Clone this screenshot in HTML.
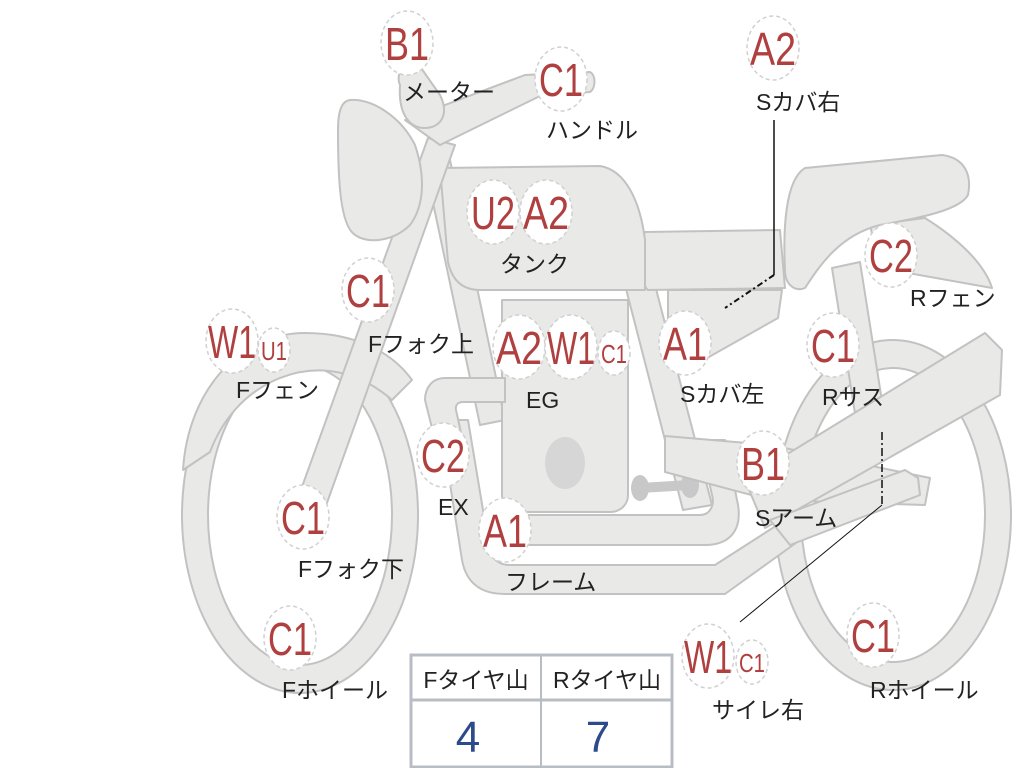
<!DOCTYPE html>
<html><head><meta charset="utf-8"><style>
html,body{margin:0;padding:0;background:#fff;width:1024px;height:768px;overflow:hidden}
svg{display:block}
.s{fill:#e9e9e7;stroke:#c2c2c2;stroke-width:2;stroke-linejoin:round}
.b{fill:#fff;stroke:#d0d0d0;stroke-width:1.5;stroke-dasharray:4 3}
.r{fill:#b0403f;font-family:"Liberation Sans",sans-serif;font-size:46px}
.rs{fill:#b0403f;font-family:"Liberation Sans",sans-serif;font-size:26px}
.l{fill:#222;font-family:"Liberation Sans","Noto Sans CJK JP",sans-serif;font-size:23px}
</style></head><body>
<svg width="1024" height="768" viewBox="0 0 1024 768">
<path class="s" fill-rule="evenodd" d="M182,515 a118,178 0 1,0 236,0 a118,178 0 1,0 -236,0 Z M208,515 a92,150 0 1,0 184,0 a92,150 0 1,0 -184,0 Z"/>
<path class="s" fill-rule="evenodd" d="M775,515 a118,175 0 1,0 236,0 a118,175 0 1,0 -236,0 Z M801,515 a92,147 0 1,0 184,0 a92,147 0 1,0 -184,0 Z"/>
<path class="s" d="M183,470 C188,390 240,333 305,333 C355,333 392,352 412,380 L392,400 C360,372 320,362 280,378 C245,392 222,420 210,452 Z"/>
<path class="s" d="M832,268 L860,262 L885,420 L857,426 Z"/>
<path class="s" d="M870,225 L925,218 C960,240 985,265 992,288 L880,268 Z"/>
<path class="s" d="M440,420 L462,560 C466,582 480,594 505,594 L725,594 L800,540 L785,520 L715,565 L510,565 C495,565 490,555 488,540 L468,420 Z"/>
<path class="s" d="M490,515 L700,515 C710,515 715,505 712,495 L700,440 L725,440 L738,505 C742,530 730,545 705,545 L495,545 Z"/>
<path class="s" d="M425,165 L450,160 L505,420 L480,425 Z"/>
<path class="s" d="M625,285 L655,285 L712,505 L683,510 Z"/>
<path class="s" d="M502,300 L628,300 L628,495 C628,505 620,512 610,512 L522,512 C510,512 502,505 502,495 Z"/>
<ellipse cx="565" cy="463" rx="20" ry="26" fill="#d6d6d6"/>
<path class="s" d="M505,378 L445,378 C432,378 425,388 425,400 L440,460 L466,455 L456,410 C455,405 458,402 463,402 L505,402 Z"/>
<path d="M640,488 L690,485" stroke="#c8c8c8" stroke-width="10"/>
<ellipse cx="640" cy="488" rx="9" ry="13" fill="#c8c8c8"/>
<ellipse cx="690" cy="485" rx="9" ry="13" fill="#c8c8c8"/>
<path class="s" d="M665,436 L770,445 L930,478 L925,505 L770,500 L665,472 Z"/>
<path class="s" d="M745,480 L985,333 L1002,350 L1000,395 L765,528 Z"/>
<path class="s" d="M770,520 L905,470 L918,478 L920,495 L790,545 Z"/>
<path class="s" d="M668,290 L782,290 L778,318 L700,362 L668,360 Z"/>
<path class="s" d="M645,232 L780,230 L785,288 L648,290 C640,285 638,240 645,232 Z"/>
<path class="s" d="M805,168 L942,155 C965,158 972,175 968,195 C960,210 920,218 880,225 C840,235 820,265 805,288 C795,292 785,285 785,270 C783,230 785,180 805,168 Z"/>
<path class="s" d="M440,168 L600,166 C625,170 640,200 645,240 L645,290 L480,290 C462,290 452,280 448,262 Z"/>
<path class="s" d="M428,138 L455,145 L318,528 L290,520 Z"/>
<path class="s" d="M350,100 C370,98 400,115 415,145 C425,175 425,205 410,225 C395,240 370,245 355,235 C340,225 338,180 338,130 C338,110 342,101 350,100 Z"/>
<path class="s" d="M405,120 L525,75 L590,72 C596,75 596,88 590,92 L540,96 L440,145 Z"/>
<path class="s" d="M400,85 C395,75 405,60 412,55 L440,95 C450,115 440,128 425,128 C410,128 398,115 400,85 Z"/>

<path d="M774,120 L774,275" stroke="#111" stroke-width="1.5" fill="none"/>
<path d="M774,275 L725,308" stroke="#111" stroke-width="2" stroke-dasharray="6 3 2 3" fill="none"/>
<path d="M882,432 L882,505" stroke="#111" stroke-width="1.5" stroke-dasharray="8 3 2 3" fill="none"/>
<path d="M882,505 L740,622" stroke="#111" stroke-width="1" fill="none"/>

<g>
<ellipse class="b" cx="407" cy="43" rx="26" ry="32"/><text class="r" x="407" y="60" text-anchor="middle" textLength="44" lengthAdjust="spacingAndGlyphs">B1</text>
<ellipse class="b" cx="561" cy="79" rx="26" ry="32"/><text class="r" x="561" y="96" text-anchor="middle" textLength="44" lengthAdjust="spacingAndGlyphs">C1</text>
<ellipse class="b" cx="773" cy="48" rx="26" ry="32"/><text class="r" x="773" y="65" text-anchor="middle" textLength="46" lengthAdjust="spacingAndGlyphs">A2</text>
<ellipse class="b" cx="493" cy="212" rx="26" ry="32"/><text class="r" x="493" y="229" text-anchor="middle" textLength="44" lengthAdjust="spacingAndGlyphs">U2</text>
<ellipse class="b" cx="546" cy="212" rx="26" ry="32"/><text class="r" x="546" y="229" text-anchor="middle" textLength="46" lengthAdjust="spacingAndGlyphs">A2</text>
<ellipse class="b" cx="368" cy="290" rx="26" ry="32"/><text class="r" x="368" y="307" text-anchor="middle" textLength="44" lengthAdjust="spacingAndGlyphs">C1</text>
<ellipse class="b" cx="232" cy="341" rx="26" ry="32"/><text class="r" x="232" y="358" text-anchor="middle" textLength="48" lengthAdjust="spacingAndGlyphs">W1</text>
<ellipse class="b" cx="274" cy="350" rx="16" ry="22"/><text class="rs" x="274" y="360" text-anchor="middle" textLength="26" lengthAdjust="spacingAndGlyphs">U1</text>
<ellipse class="b" cx="519" cy="347" rx="26" ry="32"/><text class="r" x="519" y="364" text-anchor="middle" textLength="46" lengthAdjust="spacingAndGlyphs">A2</text>
<ellipse class="b" cx="571" cy="347" rx="26" ry="32"/><text class="r" x="571" y="364" text-anchor="middle" textLength="48" lengthAdjust="spacingAndGlyphs">W1</text>
<ellipse class="b" cx="614" cy="353" rx="16" ry="22"/><text class="rs" x="614" y="363" text-anchor="middle" textLength="26" lengthAdjust="spacingAndGlyphs">C1</text>
<ellipse class="b" cx="685" cy="343" rx="26" ry="32"/><text class="r" x="685" y="360" text-anchor="middle" textLength="44" lengthAdjust="spacingAndGlyphs">A1</text>
<ellipse class="b" cx="833" cy="345" rx="26" ry="32"/><text class="r" x="833" y="362" text-anchor="middle" textLength="44" lengthAdjust="spacingAndGlyphs">C1</text>
<ellipse class="b" cx="891" cy="255" rx="26" ry="32"/><text class="r" x="891" y="272" text-anchor="middle" textLength="44" lengthAdjust="spacingAndGlyphs">C2</text>
<ellipse class="b" cx="443" cy="455" rx="26" ry="32"/><text class="r" x="443" y="472" text-anchor="middle" textLength="44" lengthAdjust="spacingAndGlyphs">C2</text>
<ellipse class="b" cx="763" cy="463" rx="26" ry="32"/><text class="r" x="763" y="480" text-anchor="middle" textLength="44" lengthAdjust="spacingAndGlyphs">B1</text>
<ellipse class="b" cx="303" cy="517" rx="26" ry="32"/><text class="r" x="303" y="534" text-anchor="middle" textLength="44" lengthAdjust="spacingAndGlyphs">C1</text>
<ellipse class="b" cx="505" cy="530" rx="26" ry="32"/><text class="r" x="505" y="547" text-anchor="middle" textLength="44" lengthAdjust="spacingAndGlyphs">A1</text>
<ellipse class="b" cx="290" cy="638" rx="26" ry="32"/><text class="r" x="290" y="655" text-anchor="middle" textLength="44" lengthAdjust="spacingAndGlyphs">C1</text>
<ellipse class="b" cx="708" cy="656" rx="26" ry="32"/><text class="r" x="708" y="673" text-anchor="middle" textLength="48" lengthAdjust="spacingAndGlyphs">W1</text>
<ellipse class="b" cx="752" cy="662" rx="16" ry="22"/><text class="rs" x="752" y="672" text-anchor="middle" textLength="26" lengthAdjust="spacingAndGlyphs">C1</text>
<ellipse class="b" cx="873" cy="635" rx="26" ry="32"/><text class="r" x="873" y="652" text-anchor="middle" textLength="44" lengthAdjust="spacingAndGlyphs">C1</text>
</g>

<g class="l">
<text x="403" y="100">メーター</text>
<text x="546" y="138">ハンドル</text>
<text x="756" y="110">Sカバ右</text>
<text x="500" y="272">タンク</text>
<text x="368" y="352">Fフォク上</text>
<text x="236" y="398">Fフェン</text>
<text x="526" y="408">EG</text>
<text x="680" y="402">Sカバ左</text>
<text x="822" y="405">Rサス</text>
<text x="910" y="306">Rフェン</text>
<text x="438" y="515">EX</text>
<text x="755" y="526">Sアーム</text>
<text x="298" y="577">Fフォク下</text>
<text x="505" y="590">フレーム</text>
<text x="282" y="698">Fホイール</text>
<text x="712" y="718">サイレ右</text>
<text x="870" y="698">Rホイール</text>
</g>

<rect x="411" y="655" width="261" height="112" fill="#fff" stroke="#b8bcc4" stroke-width="3"/>
<line x1="411" y1="700" x2="672" y2="700" stroke="#b8bcc4" stroke-width="3"/>
<line x1="541" y1="655" x2="541" y2="767" stroke="#b8bcc4" stroke-width="2"/>
<text class="l" x="476" y="688" text-anchor="middle">Fタイヤ山</text>
<text class="l" x="607" y="688" text-anchor="middle">Rタイヤ山</text>
<text x="468" y="752" text-anchor="middle" fill="#2c4a8c" font-family="Liberation Sans,sans-serif" font-size="44">4</text>
<text x="598" y="752" text-anchor="middle" fill="#2c4a8c" font-family="Liberation Sans,sans-serif" font-size="44">7</text>
</svg>
</body></html>
